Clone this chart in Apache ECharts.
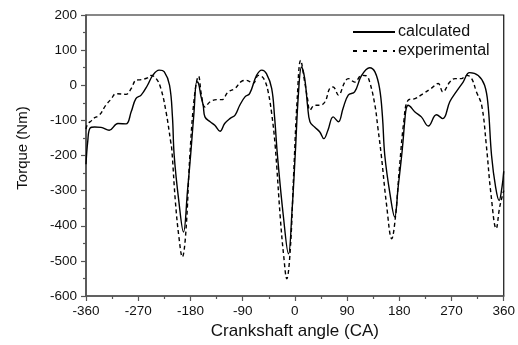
<!DOCTYPE html>
<html>
<head>
<meta charset="utf-8">
<script src="https://cdn.jsdelivr.net/npm/echarts@6/dist/echarts.min.js"></script>
<style>html,body{margin:0;padding:0;background:#fff}#c{width:518px;height:345px}</style>
</head>
<body>
<div id="c"></div>
<script>
var xTicks = [-360, -270, -180, -90, 0, 90, 180, 270, 360];
var yTicks = [-600, -500, -400, -300, -200, -100, 0, 100, 200];

var calcAngle = [-360,-357,-353,-345,-334,-320,-305,-291,-282,-274,-265,-254,-245,-234,-225,-216,-211,-208,-200,-192,-185,-179,-174,-169,-166,-162,-158,-155,-146,-138,-129,-121,-112,-103,-95,-86,-78,-66,-57,-49,-40,-35,-30,-20,-11,-5,1,6,11.5,17,22,26,34,43,50,57,66,75,83,92,103,115,129,138,146,151,155,164,172,178,185,190,192,195,207,218,230,244,255,267,278,290,301,316,327,333,339,346,352,357,360];
var calcTorque = [-225,-160,-122,-119,-120,-128,-109,-110,-75,-38,-28,0,28,43,38,0,-90,-200,-330,-418,-300,-185,-80,10,5,-30,-57,-90,-104,-114,-131,-109,-95,-85,-57,-33,-24,28,43,33,-9,-90,-200,-370,-480,-360,-185,-28,52,19,-60,-104,-119,-133,-152,-128,-90,-104,-66,-28,-19,28,50,38,-9,-90,-200,-310,-375,-290,-185,-90,-66,-57,-76,-90,-116,-84,-95,-47,-19,9,36,28,0,-57,-200,-290,-328,-290,-245];

var expAngle = [-360,-357,-350,-348,-337,-326,-317,-308,-291,-282,-274,-265,-254,-248,-239,-231,-222,-214,-212,-206,-200,-194,-188,-181,-173,-166,-161,-155,-146,-135,-126,-115,-103,-92,-83,-72,-63,-57,-51,-46,-40,-34,-25,-19,-14,-8,-2,4,10,17,22,26,34,43,52,60,66,75,86,92,103,115,123,129,138,143,149,158,167,173,180,188,195,207,221,235,247,255,267,276,287,296,304,313,322,330,338,347,353,360];
var expTorque = [-125,-110,-100,-95,-85,-57,-40,-24,-26,-9,14,16,21,28,19,-9,-76,-161,-185,-330,-430,-489,-420,-200,-30,26,-28,-62,-47,-41,-41,-19,-9,11,14,5,28,25,10,-19,-80,-171,-380,-490,-551,-470,-250,-40,71,9,-40,-71,-57,-57,-47,-9,-5,-28,9,19,9,28,27,9,-57,-120,-200,-340,-437,-380,-240,-100,-43,-38,-24,-9,5,-19,9,19,19,28,21,-19,-57,-171,-310,-408,-347,-300];

function pairs(a, b) { return a.map(function (v, i) { return [v, b[i]]; }); }

var font = 'Liberation Sans, Arial, sans-serif';
var chart = echarts.init(document.getElementById('c'), null, {renderer: 'canvas'});
chart.setOption({
  animation: false,
  backgroundColor: '#fff',
  grid: {left: 86, right: 14, top: 15, bottom: 49, show: true, borderColor: '#111', borderWidth: 1.2, backgroundColor: 'transparent'},
  legend: {
    orient: 'vertical', left: 347, top: 19, itemWidth: 42, itemHeight: 14, itemGap: 3,
    itemStyle: {opacity: 0, borderWidth: 0},
    textStyle: {fontFamily: font, fontSize: 16, color: '#111', padding: [0,0,0,-2]},
    data: [
      {name: 'calculated'},
      {name: 'experimental', lineStyle: {type: [4, 6]}}
    ]
  },
  xAxis: {
    type: 'value', min: xTicks[0], max: xTicks[xTicks.length - 1], interval: 90,
    name: 'Crankshaft angle (CA)', nameLocation: 'middle', nameGap: 27,
    nameTextStyle: {fontFamily: font, fontSize: 17, color: '#111'},
    axisLine: {show: true, onZero: false, lineStyle: {color: '#555', width: 1.5}},
    axisTick: {show: true, inside: false, length: 5, lineStyle: {color: '#555', width: 1.2}},
    minorTick: {show: true, splitNumber: 2, length: 3, lineStyle: {color: '#555', width: 1.2}},
    splitLine: {show: false},
    axisLabel: {fontFamily: font, fontSize: 13.5, color: '#111', margin: 8,
      customValues: xTicks, formatter: function (v) { return String(v); }}
  },
  yAxis: {
    type: 'value', min: yTicks[0], max: yTicks[yTicks.length - 1], interval: 100,
    name: 'Torque (Nm)', nameLocation: 'middle', nameGap: 56, nameRotate: 90,
    nameTextStyle: {fontFamily: font, fontSize: 15, color: '#111', padding: [0, 0, 0, 15]},
    axisLine: {show: true, onZero: false, lineStyle: {color: '#555', width: 1.5}},
    axisTick: {show: true, inside: false, length: 5, lineStyle: {color: '#555', width: 1.2}},
    minorTick: {show: true, splitNumber: 2, length: 3, lineStyle: {color: '#555', width: 1.2}},
    splitLine: {show: false},
    axisLabel: {fontFamily: font, fontSize: 13.5, color: '#111', margin: 9}
  },
  series: [
    {name: 'calculated', type: 'line', data: pairs(calcAngle, calcTorque), symbol: 'none',
     smooth: 0.4, lineStyle: {color: '#000', width: 1.4, type: 'solid'}, itemStyle: {color: '#000'}},
    {name: 'experimental', type: 'line', data: pairs(expAngle, expTorque), symbol: 'none',
     smooth: 0.4, lineStyle: {color: '#000', width: 1.4, type: [4, 3]}, itemStyle: {color: '#000'}}
  ]
});
</script>
</body>
</html>
